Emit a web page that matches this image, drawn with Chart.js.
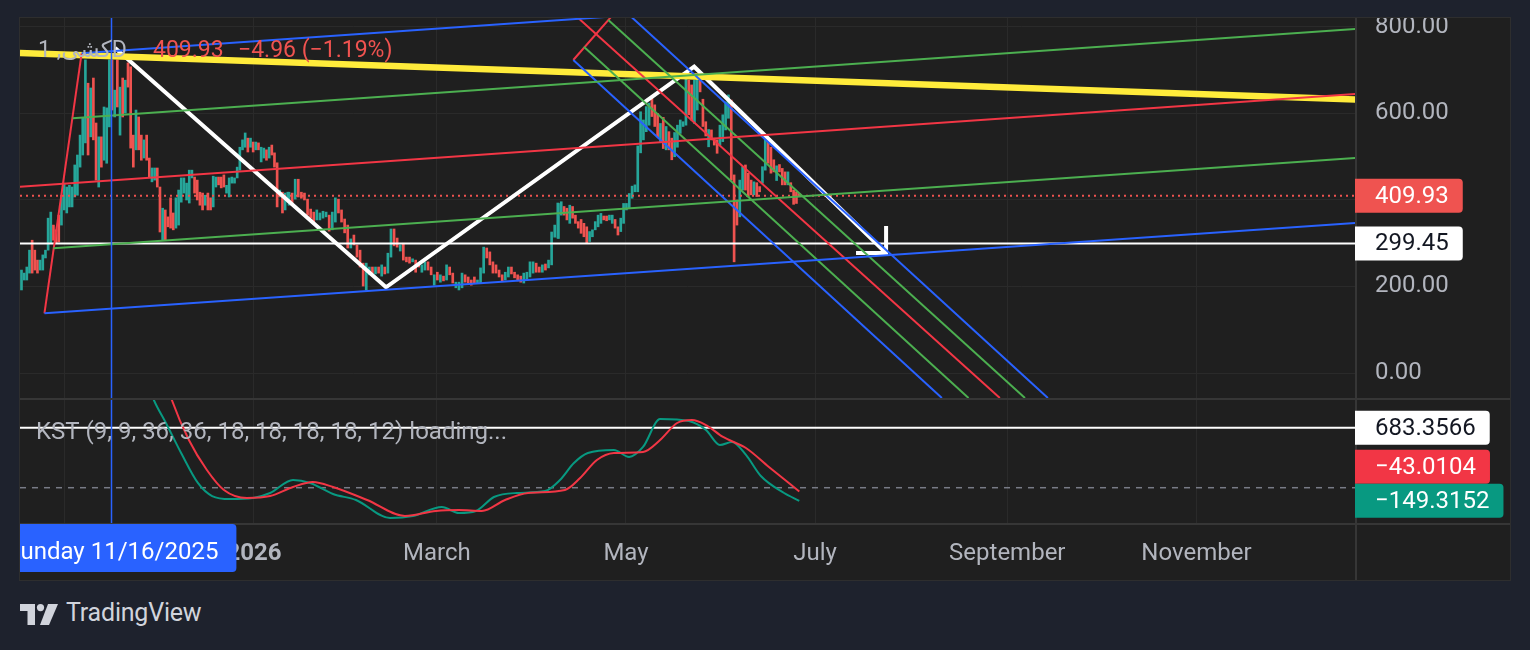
<!DOCTYPE html>
<html><head><meta charset="utf-8">
<script src="https://cdn.jsdelivr.net/npm/chart.js@4.4.1/dist/chart.umd.min.js"></script>
<style>
html,body{margin:0;padding:0;background:#1e222d;width:1530px;height:650px;overflow:hidden;font-family:Roboto,sans-serif}
#panel{position:absolute;left:19px;top:17px;width:1492px;height:564px;box-sizing:border-box;border:1px solid #2e2e2e;background:#1f1f1f}
#c1{position:absolute;left:20px;top:18px}
#c2{position:absolute;left:20px;top:398px}
#brand{position:absolute;left:66px;top:598px;color:#d1d4dc;font:25px Roboto,sans-serif;letter-spacing:-0.2px}
#logo{position:absolute;left:20px;top:604px}
</style></head><body>
<div id="panel"></div>
<canvas id="c1" width="1490" height="380"></canvas>
<canvas id="c2" width="1490" height="182"></canvas>
<svg id="logo" width="40" height="22" viewBox="0 0 40 22"><path d="M0 0H15V21H7.5V7H0Z" fill="#d1d4dc"/><circle cx="20.5" cy="3.6" r="3.6" fill="#d1d4dc"/><path d="M28 0H38L29 21H20Z" fill="#d1d4dc"/></svg>
<div id="brand">TradingView</div>
<script>
// ---------- axis data ----------
const monthDays = [-61, 0, 59, 120, 181, 243, 304];           // days from 2026-01-01
const monthLabels = ['November', '2026', 'March', 'May', 'July', 'September', 'November'];
const priceTicks = [0, 200, 400, 600, 800];
const crosshairDay = -46;                                        // 11/16/2025
const crosshairText = 'Sunday 11/16/2025';
const symbolText = 'کشی, 1D';
const lastPrice = 409.93;
const changeText = '−4.96 (−1.19%)';
const hLevel = 299.45;
const kstLevel = 683.3566;
const kstLast = -149.3152;
const sigLast = -43.0104;
const kstTitle = 'KST (9, 9, 36, 36, 18, 18, 18, 18, 12) loading...';

// ---------- candle data (three read segments, date spans in days) ----------
const segStartDay = [-75.0, 11.3, 98.2];
const segEndDay = [10.9, 98.0, 175.9];
const openA = [192,215,215,231,307,284,261,238,238,266,284,300,342,331,365,342,377,370,384,384,407,411,476,504,532,670,546,682,578,430,546,492,485,569,724,592,724,550,682,601,717,708,550,516,592,550,497,550,497,442,446,474,430,307,377,361,405,370,335,342,395,416,400,393,451,453,446,418,416,388,416,405,384,430,453,453,458,416,407,439,439,451,469,516,522,543,522,534,516,532,488,497,516,497,527,509,486,407,418,377,395];
const closeA = [238,231,245,284,231,238,231,261,273,284,358,372,307,300,303,411,439,430,434,430,481,504,550,590,724,504,659,539,446,546,476,615,613,724,608,654,615,661,592,677,661,520,476,608,516,492,539,492,453,474,474,430,326,381,307,338,335,331,405,423,451,451,439,469,469,416,400,388,377,411,377,377,455,453,435,428,430,434,451,453,451,476,522,539,555,511,543,511,534,516,522,520,492,522,504,476,384,423,370,416,418];
const openB = [388,416,402,448,418,416,402,379,372,354,354,358,361,365,331,349,402,377,356,342,289,319,296,284,254,192,227,245,229,245,224,245,231,268,333,312,282,300,268,268,257,261,254,233,238,257,245,203,233,210,224,215,245,231,197,192,197,227,222,215,222,208,208,231,289,280,257,250,238,227,215,222,245,233,227,224,208,215,222,231,254,245,233,252,243,250,314,312];
const closeB = [418,388,448,407,404,400,365,358,347,377,370,374,372,328,372,405,370,349,324,289,310,296,268,245,201,254,245,231,245,231,250,229,277,333,294,291,296,261,257,254,264,233,245,250,257,238,227,227,215,227,213,250,227,208,210,210,231,210,208,203,208,215,243,291,266,250,231,231,222,213,233,245,229,220,213,210,231,233,257,257,233,233,250,238,261,326,342,393];
const openC = [311,365,385,381,346,385,365,350,355,346,338,304,315,331,338,346,363,363,354,346,355,338,327,346,377,381,404,419,419,509,539,558,573,640,620,600,535,591,516,558,543,500,522,554,570,573,677,666,577,608,681,633,581,523,562,543,539,527,535,562,589,631,458,400,361,423,481,462,446,412,440,431,439,469,535,522,493,445,482,473,465,435,440,423,419,415];
const closeC = [392,396,365,354,388,358,346,335,323,315,301,327,331,350,365,369,354,352,365,365,335,319,358,392,392,415,432,435,525,604,585,616,624,593,570,546,577,519,570,516,493,556,573,585,581,689,597,585,677,685,650,570,548,563,539,527,508,573,597,627,643,446,257,342,446,477,423,408,412,442,408,419,477,540,485,462,465,479,465,435,435,465,419,390,392,409.93];

// ---------- drawings (day, value) ----------
const yellowLine = [[-75.5, 739.8], [355.2, 632.3]];
const pf1BC = [[-67.6, 138.0], [-55.6, 739.2]];
const pf1Median = [[-75.5, 430.7], [355.2, 645.0]];
const pf1UpperGreen = [[-58.5, 588.9], [355.2, 795.3]];
const pf1LowerGreen = [[-64.7, 288.3], [355.2, 497.1]];
const pf1UpperBlue = [[-55.6, 739.2], [355.2, 943.4]];
const pf1LowerBlue = [[-67.6, 138.0], [355.2, 346.8]];
const pf2BC = [[103.0, 723.7], [118.1, 847.1]];
const pf2Median = [[100.0, 850.5], [240.6, -57.8]];
const pf2UpperGreen = [[114.3, 816.1], [248.7, -57.8]];
const pf2LowerGreen = [[106.4, 754.4], [230.5, -57.8]];
const pf2UpperBlue = [[118.1, 847.1], [256.1, -57.8]];
const pf2LowerBlue = [[103.0, 723.7], [221.9, -57.8]];
const zigzag = [[-44.8, 751.4], [42.6, 198.2], [142.0, 708.2], [203.9, 277.4]];
const arrowHead = [[203.9, 339.9], [203.9, 277.4], [194.2, 277.4]];

// ---------- KST ----------
const kstDays = [-36,-32.3,-28.4,-23.5,-18.1,-13.5,-7.7,-0.3,5.2,12.6,18.1,25.5,32.9,43.9,51.3,60.6,66.1,71.6,77.4,84.8,93.9,98.7,103.2,107.7,116.1,121,125.5,131,140.3,145.8,150.3,154.2,158.7,163.5,171,175.9];
const kstValues = [1350,999,737,395,54,-95,-129,-117,-60,88,54,-72,-140,-345,-322,-220,-288,-265,-106,-60,-38,88,281,395,430,350,464,783,760,657,486,521,373,133,-60,-149.3152];
const sigDays = [-30,-26.5,-21,-15.2,-9.7,-2.3,5.2,12.6,19,25.5,36.5,48.7,58.7,66.1,73.5,81,88.4,100.3,105.2,110.6,116.1,125.5,131,136.5,141.3,145.8,151.3,158.7,166.1,175.9];
const sigValues = [1400,999,543,202,-26,-117,-95,8,65,8,-140,-322,-265,-254,-265,-140,-60,-26,110,315,395,407,543,737,771,714,578,452,236,-43.0104];

// ---------- build ----------
const X_MIN = -75.48, X_MAX = 355.16;
const GRID = '#2a2a2a', SEP = '#363636', TXT = '#b2b5be';
const UP = '#26a69a', DOWN = '#ef5350';
const FS = 24;

function spread(a, b, n) { const out = []; for (let i = 0; i < n; i++) out.push(a + (b - a) * i / (n - 1)); return out; }
const barDays = [].concat(spread(segStartDay[0], segEndDay[0], openA.length), spread(segStartDay[1], segEndDay[1], openB.length), spread(segStartDay[2], segEndDay[2], openC.length));
const opens = [].concat(openA, openB, openC);
const closes = [].concat(closeA, closeB, closeC);
const candleData = barDays.map((d, i) => ({ x: d, y: [opens[i], closes[i]] }));
const candleColors = opens.map((o, i) => closes[i] >= o ? UP : DOWN);

function line(points, color, width, extra) {
  return Object.assign({ type: 'line', data: points.map(p => ({ x: p[0], y: p[1] })), borderColor: color, borderWidth: width,
    pointRadius: 0, fill: false, tension: 0, clip: 0, order: 1, borderCapStyle: 'butt', borderJoinStyle: 'miter' }, extra || {});
}
function rrect(ctx, x, y, w, h, r) {
  ctx.beginPath(); ctx.moveTo(x, y); ctx.lineTo(x + w - r, y); ctx.quadraticCurveTo(x + w, y, x + w, y + r);
  ctx.lineTo(x + w, y + h - r); ctx.quadraticCurveTo(x + w, y + h, x + w - r, y + h); ctx.lineTo(x, y + h); ctx.closePath();
}
function axisLabel(ctx, x, yc, text, bg, fg) {
  ctx.font = FS + 'px Roboto'; const tw = ctx.measureText(text).width; const w = 20 + tw + 14, h = 34;
  ctx.fillStyle = bg; rrect(ctx, x, yc - h / 2, w, h, 4); ctx.fill();
  ctx.fillStyle = fg; ctx.textBaseline = 'middle'; ctx.textAlign = 'left'; ctx.fillText(text, x + 20, yc + 1);
}
function noPad(s) { s.paddingTop = 0; s.paddingBottom = 0; s.paddingLeft = 0; s.paddingRight = 0; }

const mainOverlay = {
  id: 'mainOverlay',
  afterDatasetsDraw(chart) {
    const { ctx, chartArea: a, scales: { x } } = chart;
    const cx = Math.round(x.getPixelForValue(crosshairDay)) + 0.5;
    ctx.save();
    ctx.strokeStyle = '#2962ff'; ctx.lineWidth = 1.5;
    ctx.beginPath(); ctx.moveTo(cx, a.top); ctx.lineTo(cx, a.bottom); ctx.stroke();
    ctx.font = '23px Roboto, "DejaVu Sans"'; ctx.textBaseline = 'middle'; ctx.textAlign = 'left';
    ctx.fillStyle = TXT; ctx.fillText(symbolText, 18, 33);
    ctx.fillStyle = '#f05350'; ctx.fillText(lastPrice.toFixed(2), 133, 33); ctx.fillText(changeText, 218, 33);
    ctx.restore();
  },
  afterDraw(chart) {
    const { ctx, chartArea: a, scales: { y } } = chart;
    ctx.save();
    ctx.fillStyle = SEP; ctx.fillRect(a.right, 0, 2, chart.height);
    axisLabel(ctx, a.right, y.getPixelForValue(lastPrice), lastPrice.toFixed(2), '#ef5350', '#ffffff');
    axisLabel(ctx, a.right, y.getPixelForValue(hLevel), hLevel.toFixed(2), '#ffffff', '#131722');
    ctx.restore();
  }
};

const kstOverlay = {
  id: 'kstOverlay',
  afterDatasetsDraw(chart) {
    const { ctx, chartArea: a, scales: { x } } = chart;
    const cx = Math.round(x.getPixelForValue(crosshairDay)) + 0.5;
    ctx.save();
    ctx.strokeStyle = '#2962ff'; ctx.lineWidth = 1.5;
    ctx.beginPath(); ctx.moveTo(cx, 0); ctx.lineTo(cx, a.bottom); ctx.stroke();
    ctx.font = FS + 'px Roboto'; ctx.textBaseline = 'middle'; ctx.textAlign = 'left';
    ctx.fillStyle = TXT; ctx.fillText(kstTitle, 16, 35);
    ctx.restore();
  },
  afterDraw(chart) {
    const { ctx, chartArea: a, scales: { x, y } } = chart;
    ctx.save();
    ctx.fillStyle = SEP;
    ctx.fillRect(0, 0, chart.width, 2);
    ctx.fillRect(0, a.bottom, chart.width, 2);
    ctx.fillRect(a.right, 0, 2, chart.height);
    axisLabel(ctx, a.right, y.getPixelForValue(kstLevel), kstLevel.toFixed(4), '#ffffff', '#131722');
    const gy = y.getPixelForValue(kstLast);
    const ry = Math.min(y.getPixelForValue(sigLast), gy - 34);
    axisLabel(ctx, a.right, ry, '−' + Math.abs(sigLast).toFixed(4), '#f23645', '#ffffff');
    axisLabel(ctx, a.right, gy, '−' + Math.abs(kstLast).toFixed(4), '#089981', '#ffffff');
    // crosshair time label
    const cx = x.getPixelForValue(crosshairDay);
    ctx.beginPath(); ctx.rect(0, 0, a.right, chart.height); ctx.clip();
    ctx.fillStyle = '#2962ff'; rrect(ctx, cx - 125, a.bottom + 1, 250, 48, 4); ctx.fill();
    ctx.fillStyle = '#ffffff'; ctx.font = FS + 'px Roboto'; ctx.textAlign = 'right'; ctx.textBaseline = 'middle';
    ctx.fillText(crosshairText, cx + 107, a.bottom + 30);
    ctx.restore();
  }
};

const xMonthTicks = s => { s.ticks = monthDays.map(v => ({ value: v })); };

new Chart(document.getElementById('c1'), {
  type: 'bar',
  data: { datasets: [
    { type: 'bar', data: candleData, backgroundColor: candleColors, borderWidth: 0, barThickness: 2, grouped: false, order: 10, minBarLength: 1 },
    line([[X_MIN, lastPrice], [X_MAX, lastPrice]], '#ef5350', 2, { borderDash: [2, 4], order: 9 }),
    line(pf1LowerBlue, '#2962ff', 2), line(pf1UpperBlue, '#2962ff', 2),
    line(pf1LowerGreen, '#4caf50', 2), line(pf1UpperGreen, '#4caf50', 2),
    line(pf1Median, '#f23645', 2), line(pf1BC, '#f23645', 2),
    line(pf2LowerBlue, '#2962ff', 2), line(pf2UpperBlue, '#2962ff', 2),
    line(pf2LowerGreen, '#4caf50', 2), line(pf2UpperGreen, '#4caf50', 2),
    line(pf2Median, '#f23645', 2), line(pf2BC, '#f23645', 2),
    line([[X_MIN, hLevel], [X_MAX, hLevel]], '#ffffff', 2),
    line(yellowLine, '#ffeb3b', 6.5),
    line(zigzag, '#ffffff', 4),
    line(arrowHead, '#ffffff', 4)
  ] },
  options: {
    responsive: false, animation: false, devicePixelRatio: 1,
    layout: { padding: 0, autoPadding: false },
    plugins: { legend: { display: false }, tooltip: { enabled: false } },
    scales: {
      x: { type: 'linear', min: X_MIN, max: X_MAX, offset: false, afterBuildTicks: xMonthTicks,
        ticks: { display: false }, grid: { color: GRID, drawTicks: false, offset: false }, border: { display: false },
        afterFit: s => { s.height = 0; noPad(s); } },
      y: { position: 'right', min: -57.8, max: 820.8,
        afterBuildTicks: s => { s.ticks = priceTicks.map(v => ({ value: v })); },
        ticks: { color: TXT, font: { family: 'Roboto', size: FS }, padding: 20, callback: v => Number(v).toFixed(2) },
        grid: { color: GRID, drawTicks: false }, border: { display: false },
        afterFit: s => { s.width = 155; noPad(s); } }
    }
  },
  plugins: [mainOverlay]
});

new Chart(document.getElementById('c2'), {
  type: 'line',
  data: { datasets: [
    line([[X_MIN, 0], [X_MAX, 0]], '#787b86', 1.5, { borderDash: [6, 6], order: 5 }),
    line([[X_MIN, kstLevel], [X_MAX, kstLevel]], '#ffffff', 2, { order: 4 }),
    line(kstDays.map((d, i) => [d, kstValues[i]]), '#089981', 2, { cubicInterpolationMode: 'monotone', order: 3 }),
    line(sigDays.map((d, i) => [d, sigValues[i]]), '#f23645', 2, { cubicInterpolationMode: 'monotone', order: 2 })
  ] },
  options: {
    responsive: false, animation: false, devicePixelRatio: 1,
    layout: { padding: { top: 2, left: 0, right: 0, bottom: 0 }, autoPadding: false },
    plugins: { legend: { display: false }, tooltip: { enabled: false } },
    scales: {
      x: { type: 'linear', min: X_MIN, max: X_MAX, afterBuildTicks: xMonthTicks,
        ticks: { color: TXT, padding: 17, maxRotation: 0, autoSkip: false,
          font: c => ({ family: 'Roboto', size: FS, weight: (c.tick && c.tick.value === 0) ? 'bold' : 'normal' }),
          callback: (v) => monthLabels[monthDays.indexOf(v)] },
        grid: { color: GRID, drawTicks: false }, border: { display: false },
        afterFit: s => { s.height = 57; noPad(s); } },
      y: { position: 'right', min: -402, max: 999, ticks: { display: false }, grid: { display: false }, border: { display: false },
        afterFit: s => { s.width = 155; noPad(s); } }
    }
  },
  plugins: [kstOverlay]
});
</script>
</body></html>
